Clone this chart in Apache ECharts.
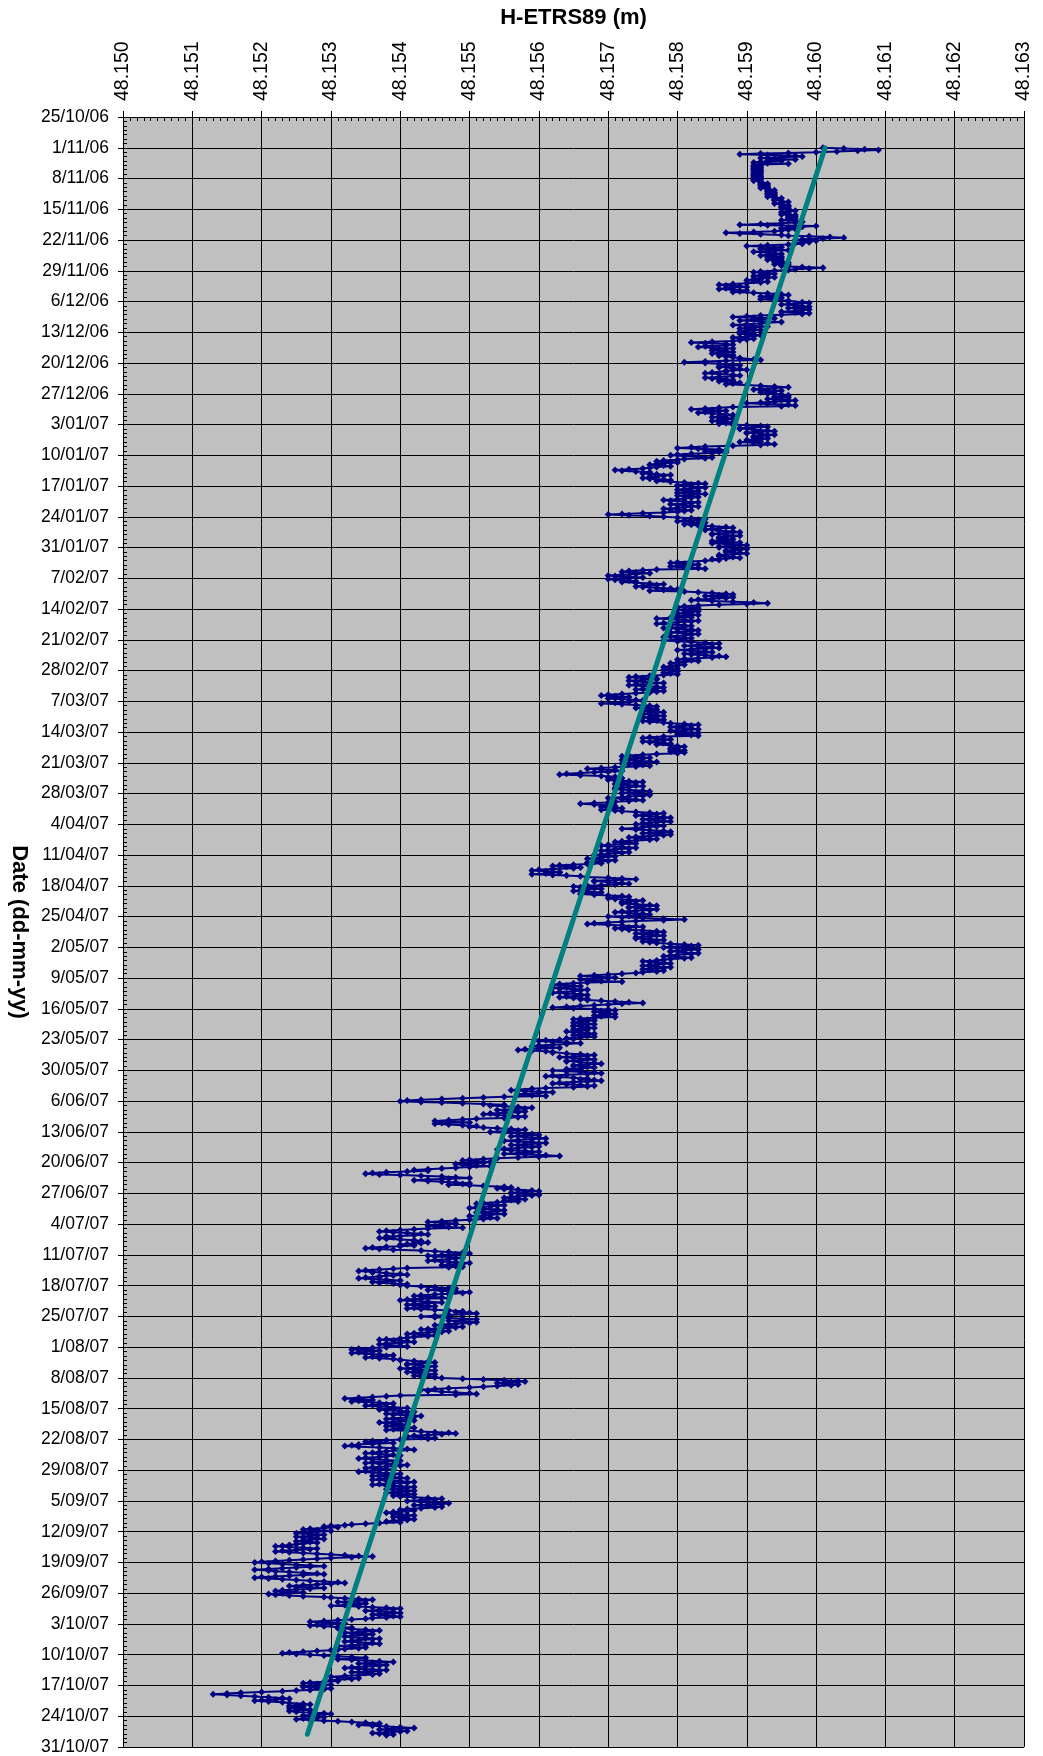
<!DOCTYPE html>
<html><head><meta charset="utf-8">
<script src="https://cdn.jsdelivr.net/npm/echarts@6/dist/echarts.min.js"></script>
<style>html,body{margin:0;padding:0;background:#fff}#c{width:1043px;height:1756px}</style>
</head><body><div id="c"></div>
<script>
// Heights are stored in tenths of a millimetre above 48.150 m, 6 samples per day (every 4 h)
const BASE_M = 48.150, UNIT_M = 0.0001;
const START_DAY = 7;            // 1/11/06 00:00 = 7 days after 25/10/06 (axis origin)
const SAMPLES_PER_DAY = 6;
const AXIS_DAYS = [0, 371, 7];   // 25/10/06 .. 31/10/07, weekly ticks
const AXIS_H = [48.150, 48.163, 0.001];

const nov06 = [
101,104,107,109,106,103, 100,96,92,89,93,97, 98,95,92,94,97,93, 95,92,91,93,96,92,
91,92,91,92,91,92, 91,92,91,92,92,91, 91,92,91,92,91,92, 92,91,92,91,92,92,
92,93,92,93,92,93, 93,92,93,93,94,93, 93,94,93,94,93,94, 94,93,94,95,94,94,
94,95,96,95,94,95, 95,96,95,96,95,96, 95,96,97,96,95,96, 96,95,97,96,97,96,
96,97,96,95,97,98, 97,95,92,89,93,100, 98,96,95,97,96,95, 94,91,87,89,92,95,
96,99,102,104,101,98, 97,100,98,99,97,98, 96,93,90,92,95,94, 92,94,96,93,91,93,
94,95,93,92,94,95, 93,95,94,93,95,94, 94,96,95,94,96,95, 96,98,101,99,97,96,
94,92,91,93,94,92, 93,91,92,94,93,91];
const dec06 = [
92,90,91,93,92,90, 88,86,87,89,90,88, 87,86,88,90,89,88, 91,93,95,96,94,92,
93,95,94,92,94,96, 96,98,99,97,95,97, 97,99,98,96,98,99, 98,97,95,97,99,98,
95,92,90,88,91,94, 93,91,89,92,95,93, 92,90,88,90,93,91, 90,89,91,92,90,89,
90,91,89,90,92,91, 90,88,89,91,90,89, 88,85,82,84,87,88, 87,84,83,85,88,86,
86,85,87,88,86,85, 87,88,86,87,88,89, 89,91,92,87,84,81, 84,86,88,89,87,86,
86,88,89,90,88,87, 87,85,84,86,88,89, 88,86,84,85,87,88, 87,86,88,89,88,87,
90,92,94,96,94,92, 91,93,95,94,92,93, 93,95,96,95,94,96, 94,93,95,97,96,94,
92,90,93,96,97,95, 88,86,84,82,85,87, 86,84,83,85,87,88];
const jan07 = [
88,86,85,87,88,86, 87,85,86,88,87,86, 88,90,92,93,91,89, 89,91,93,94,92,90,
90,92,94,93,91,92, 91,93,92,90,91,92, 89,91,93,94,92,88, 84,82,80,83,86,87,
84,86,87,85,82,80, 79,81,83,85,84,81, 80,78,77,79,80,78, 77,76,78,79,77,76,
75,73,71,72,74,76, 76,75,77,79,78,76, 77,75,76,78,79,77, 79,81,83,84,82,80,
80,82,84,83,81,80, 81,83,82,80,82,84, 82,80,81,83,82,81, 80,78,79,81,83,82,
81,79,80,82,83,81, 80,78,79,82,81,80, 78,75,72,70,73,76, 78,80,82,84,83,81,
80,82,84,83,81,82, 83,85,87,88,86,84, 84,86,88,89,87,85, 85,87,89,88,86,87,
86,88,87,85,87,89, 85,87,89,90,88,86, 86,88,90,89,87,88];
const feb07 = [
87,89,90,88,86,87, 86,88,89,87,85,86, 84,82,80,79,81,83, 82,80,79,81,83,84,
77,75,73,72,74,76, 74,72,70,71,73,75, 72,70,71,73,74,72, 74,76,78,77,75,74,
75,77,79,80,78,76, 81,83,85,87,88,86, 84,86,88,87,85,83, 82,85,88,91,93,90,
86,83,81,80,82,83, 82,80,81,83,82,81, 80,82,83,81,80,82, 79,77,79,81,83,82,
80,78,77,79,81,82, 81,79,78,80,82,83, 82,80,79,81,83,82, 81,79,78,80,82,81,
80,78,80,82,84,86, 85,83,81,83,85,86, 84,82,80,82,84,85, 83,81,82,84,86,87,
85,83,81,80,82,83, 81,80,79,80,81,80, 79,78,79,80,79,78, 79,80,79,78,79,80];
const mar07 = [
78,76,74,73,75,77, 77,75,73,74,76,78, 76,74,73,75,77,78, 77,75,74,76,78,77,
76,74,72,70,69,71, 73,71,70,72,74,75, 75,73,71,69,72,74, 76,77,75,74,76,77,
76,75,77,78,76,75, 75,77,78,76,75,77, 76,78,77,75,76,78, 79,81,83,82,80,79,
80,82,83,81,79,80, 81,83,82,80,82,83, 78,76,75,77,79,78, 77,75,76,78,79,77,
79,80,81,80,79,80, 79,81,80,79,81,80, 77,75,73,72,74,76, 75,73,72,74,76,77,
74,72,73,75,76,74, 71,69,67,69,71,72, 70,68,66,64,63,66, 69,71,70,72,71,70,
71,73,75,74,72,71, 72,74,75,73,71,72, 71,73,75,76,74,72, 72,74,76,75,73,72,
70,72,74,75,73,71, 70,68,66,68,70,71, 69,71,72,70,69,71];
const apr07 = [
72,74,76,78,77,75, 74,76,78,79,77,75, 76,78,79,77,75,76, 74,76,78,77,75,74,
72,74,76,78,79,77, 75,77,79,78,76,74, 73,75,77,76,74,72, 71,73,74,72,70,69,
70,72,74,73,71,70, 69,71,73,72,70,69, 68,70,71,69,68,67, 69,71,70,68,67,69,
67,65,63,62,64,66, 65,62,60,59,61,63, 63,61,59,62,64,66, 67,70,72,74,71,68,
68,70,72,73,71,69, 67,65,66,68,69,67, 66,65,67,69,68,66, 68,70,72,73,71,70,
71,73,75,74,72,73, 72,74,76,77,75,73, 73,75,77,76,74,72, 71,73,75,76,74,73,
70,72,75,78,81,78, 74,72,70,68,67,70, 72,74,75,73,71,72, 73,75,77,78,76,74,
75,77,78,76,74,75, 74,76,78,77,75,76];
const may07 = [
77,79,81,83,82,79, 78,80,82,83,81,79, 79,81,83,82,80,79, 78,80,82,81,79,78,
77,75,76,78,79,77, 76,75,77,79,78,76, 75,76,78,77,75,74, 72,70,68,66,68,71,
70,68,66,67,69,72, 67,65,63,62,64,66, 64,62,63,65,67,66, 65,63,62,64,66,67,
66,64,63,65,67,66, 67,69,71,73,75,72, 70,68,66,64,62,65, 68,70,71,69,68,70,
69,71,70,68,69,71, 68,66,65,67,68,66, 66,65,67,68,66,65, 65,67,68,66,65,67,
66,64,65,67,68,66, 65,67,68,66,64,65, 63,61,60,62,64,66, 64,62,60,59,61,63,
60,58,57,59,61,62, 62,64,66,68,67,65, 63,65,67,68,66,64, 64,66,68,69,67,65,
65,67,68,66,64,66, 62,64,66,68,69,67, 64,62,61,63,65,67];
const jun07 = [
66,68,69,67,65,63, 62,64,66,68,67,65, 61,59,57,56,58,60, 62,60,58,57,59,61,
55,52,49,46,43,41, 40,43,46,49,52,55, 53,55,57,59,58,56, 54,56,58,57,55,53,
52,54,56,58,57,55, 51,49,47,45,47,50, 46,45,47,49,51,50, 52,54,56,58,57,55,
53,55,57,59,60,58, 56,58,60,61,59,57, 55,57,59,61,60,58, 56,58,60,59,57,55,
54,56,58,60,59,57, 55,58,61,63,60,57, 54,52,50,49,51,53, 52,50,48,49,51,53,
50,48,46,44,42,44, 41,38,36,35,37,40, 43,46,48,50,47,44, 42,44,46,48,50,49,
47,50,52,55,56,54, 55,57,59,60,58,56, 56,58,60,59,57,56, 55,57,58,56,55,57,
54,52,51,53,55,54, 53,51,50,52,54,55];
const jul07 = [
54,52,51,53,55,53, 52,50,51,53,54,52, 50,48,46,44,46,48, 48,46,44,45,47,49,
44,42,40,38,37,39, 41,43,44,42,40,38, 39,37,38,40,42,43, 42,44,43,41,40,42,
40,38,36,35,37,39, 43,45,47,49,50,48, 46,44,45,47,49,48, 47,45,44,46,48,50,
49,47,46,48,49,47, 41,39,37,35,34,36, 36,38,40,41,39,37, 37,35,34,36,38,40,
38,36,37,39,41,40, 41,43,45,47,48,46, 44,46,48,50,49,47, 45,43,42,44,46,47,
43,41,40,42,44,46, 44,42,41,43,45,44, 42,41,43,45,47,49, 48,50,51,49,47,45,
43,45,47,49,51,49, 47,49,51,50,48,46, 45,47,49,48,46,44, 43,45,47,46,44,42,
41,43,45,44,42,41, 40,38,37,39,41,42, 40,38,37,38,40,41];
const aug07 = [
38,36,34,33,35,37, 36,34,33,35,37,39, 38,36,35,37,39,40, 40,42,44,45,43,41,
41,43,45,44,42,40, 42,44,45,43,41,42, 43,45,44,42,43,45, 46,49,52,55,57,58,
56,54,55,57,56,54, 52,50,47,45,43,44, 44,46,48,50,51,48, 40,38,36,34,32,34,
36,34,33,35,37,39, 38,36,35,37,39,41, 39,37,38,40,42,41, 40,38,39,41,43,42,
41,39,38,40,42,41, 39,37,38,40,41,39, 38,40,42,41,39,38, 41,43,45,47,48,46,
44,42,41,43,45,44, 40,38,36,35,37,39, 36,34,33,32,34,37, 39,41,42,40,38,37,
36,35,37,39,40,38, 37,35,34,36,38,40, 38,36,35,37,39,41, 40,38,36,35,37,39,
37,35,34,36,38,40, 39,37,36,38,40,41, 37,36,38,40,42,41];
const sep07 = [
39,37,36,38,40,42, 41,39,38,40,42,41, 39,38,40,42,41,39, 40,42,44,46,45,43,
41,43,45,47,46,44, 42,44,46,45,43,41, 40,42,41,39,38,40, 39,41,42,40,39,41,
40,42,41,39,38,40, 37,35,33,32,30,29, 31,29,27,26,28,30, 28,26,25,27,29,28,
27,25,26,28,29,27, 26,25,27,28,26,25, 24,23,22,24,26,28, 27,25,23,22,24,26,
28,30,32,34,36,33, 30,28,26,24,22,20, 19,21,23,25,27,29, 27,25,23,21,19,21,
22,24,26,28,29,26, 24,22,20,19,21,23, 25,27,29,31,32,30, 28,26,24,25,27,29,
27,25,23,22,24,26, 23,21,22,24,26,29, 30,32,34,36,35,33, 31,33,35,34,32,30,
34,36,38,40,39,37, 35,37,39,40,38,36];
const oct07 = [
37,39,40,38,36,35, 33,31,29,27,29,32, 30,28,27,29,31,33, 31,33,35,37,36,34,
32,34,36,35,33,32, 33,35,37,36,34,33, 32,34,36,37,35,33, 31,33,35,34,32,31,
30,28,26,24,23,25, 27,29,31,33,35,33, 31,33,35,37,39,36, 34,36,38,37,35,33,
32,34,36,38,37,35, 33,35,37,36,34,32, 30,32,34,33,31,30, 31,29,27,26,28,30,
29,27,26,28,30,29, 27,25,23,20,17,15, 13,15,17,19,21,23, 24,22,20,19,21,23,
24,26,27,25,24,26, 25,24,26,27,25,24, 25,27,29,30,28,26, 27,29,28,26,25,27,
29,31,33,35,37,36, 34,36,38,40,42,39, 37,39,41,40,38,36, 37,39,38];

// Linear trend (teal) end points
const TREND_H = [48.16013, 48.15266];
const TREND_DAY = [7.0, 368.1];

const heights = [].concat(nov06, dec06, jan07, feb07, mar07, apr07, may07, jun07, jul07, aug07, sep07, oct07);
const obs = heights.map((v, i) => [+(BASE_M + v * UNIT_M).toFixed(4), START_DAY + i / SAMPLES_PER_DAY]);
const trend = TREND_H.map((h, i) => [h, TREND_DAY[i]]);

const ORIGIN = Date.UTC(2006, 9, 25);
function fmtDay(n) {
  const d = new Date(ORIGIN + Math.round(n) * 86400000);
  return d.getUTCDate() + '/' + String(d.getUTCMonth() + 1).padStart(2, '0') + '/' + String(d.getUTCFullYear() % 100).padStart(2, '0');
}
const FONT = 'Liberation Sans, Arial, Helvetica, sans-serif';
const chart = echarts.init(document.getElementById('c'), null, {renderer: 'canvas'});
chart.setOption({
  animation: false,
  backgroundColor: '#ffffff',
  grid: {left: 122, right: 19, top: 117, bottom: 9, show: true, backgroundColor: '#c0c0c0', borderWidth: 0, containLabel: false},
  xAxis: {
    type: 'value', position: 'top', min: AXIS_H[0], max: AXIS_H[1], interval: AXIS_H[2],
    axisLine: {show: true, onZero: false, lineStyle: {color: '#000', width: 1}},
    axisTick: {show: true, inside: false, length: 6, lineStyle: {color: '#000', width: 1}},
    minorTick: {show: true, splitNumber: 10, length: -4, lineStyle: {color: '#000', width: 1}},
    axisLabel: {rotate: -90, margin: 16, fontSize: 19.5, color: '#000', fontFamily: FONT, formatter: v => v.toFixed(3)},
    splitLine: {show: true, lineStyle: {color: '#000', width: 1}},
    name: 'H-ETRS89 (m)', nameLocation: 'middle', nameGap: 88,
    nameTextStyle: {fontWeight: 'bold', fontSize: 22, color: '#000', fontFamily: FONT}
  },
  yAxis: {
    type: 'value', inverse: true, min: AXIS_DAYS[0], max: AXIS_DAYS[1], interval: AXIS_DAYS[2],
    axisLine: {show: true, onZero: false, lineStyle: {color: '#000', width: 1}},
    axisTick: {show: true, inside: false, length: 5, lineStyle: {color: '#000', width: 1}},
    minorTick: {show: true, splitNumber: 7, length: -4, lineStyle: {color: '#000', width: 1}},
    axisLabel: {margin: 14, fontSize: 17.5, color: '#000', fontFamily: FONT, formatter: fmtDay},
    splitLine: {show: true, lineStyle: {color: '#000', width: 1}},
    name: 'Date (dd-mm-yy)', nameLocation: 'middle', nameRotate: -90, nameGap: 92,
    nameTextStyle: {fontWeight: 'bold', fontSize: 22, color: '#000', fontFamily: FONT}
  },
  series: [
    {type: 'line', data: obs, symbol: 'diamond', symbolSize: 7, showSymbol: true,
     lineStyle: {color: '#000080', width: 2}, itemStyle: {color: '#000080'}, z: 3, silent: true, clip: true},
    {type: 'line', data: trend, symbol: 'none', lineStyle: {color: '#008080', width: 5, cap: 'round'}, z: 4, silent: true}
  ]
});
</script></body></html>
